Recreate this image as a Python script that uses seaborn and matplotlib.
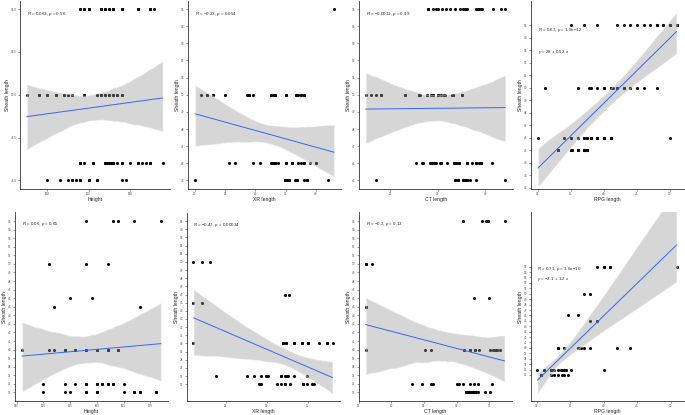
import matplotlib
matplotlib.use("Agg")
import matplotlib.pyplot as plt
import seaborn as sns

# Sheath length only takes a few values, so each x list is grouped by sheath level.
# Repeated x values are subjects that sit on top of each other in the picture.

# ---- top row : first cohort ----
sheath_levels_a = [55, 50, 46, 45]
height_a = [
    [168, 169, 170, 173, 174, 175, 176, 178, 182, 185, 186,
     168, 169, 170, 173, 174, 175, 176, 178, 182, 185],
    [155, 158, 160, 162, 164, 165, 166, 169, 172, 173, 174, 175, 176, 177, 178,
     158, 160, 162, 164, 165, 166, 169, 172, 173, 174, 175, 176, 177, 178],
    [168, 169, 171, 174, 174.5, 175, 175.5, 176, 177, 178, 180, 182, 183, 184, 185, 188,
     168, 171, 174, 175, 176, 178, 182, 185],
    [160, 163, 165, 166, 167, 168, 170, 172, 178, 179, 170, 166, 168, 172],
]
xr_a = [
    [43],
    [21, 22, 23, 25, 28.6, 29, 29.6, 32.5, 33, 33.3, 35, 36.7, 37, 37.6, 38,
     22, 23, 29, 32.5, 33, 33.3, 35, 36.7, 37.6, 38],
    [25.7, 26.6, 29.6, 30.7, 32.5, 32.7, 32.9, 33.3, 33.8, 35, 36, 37, 37.5, 38, 39, 40,
     32.7, 33.3, 35, 36, 38, 40],
    [20, 34.9, 35.2, 35.6, 36.6, 36.8, 38, 38.5, 42, 34.9, 35.6, 36.8, 38.5],
]
ct_a = [
    [28, 29, 29.5, 30, 30.9, 31.8, 32.5, 33.6, 34.6, 35.2, 35.7, 36.2, 38, 38.4, 38.7,
     39, 39.3, 41.5, 43.3, 44.2, 28],
    [14.8, 15.9, 16.9, 18, 23.1, 26, 26.3, 27.8, 28.5, 29, 30, 30.6, 31.2, 31.5, 32.9, 33.1, 35.1,
     18, 23.1, 26, 27.8, 29, 30, 31.2, 32.9, 33.1, 35.1],
    [25.4, 26.6, 26.9, 28.3, 28.8, 29.2, 29.6, 30.4, 30.7, 32, 33.4, 33.8, 34.4, 36.2, 37.1,
     38.1, 38.6, 39.1, 41.3, 38.1, 39.1, 34.4, 30.7, 33.4, 33.8, 36.2],
    [16.9, 33.6, 34.3, 35.3, 35.6, 35.9, 36.2, 36.7, 38, 44.2, 36.2, 33.6, 34.3, 35.3],
]
rpg_a = [
    [35, 37, 39, 42, 43, 44, 45, 46, 47, 48, 49, 50, 51, 48, 49, 50, 51],
    [31, 36, 37.7, 38, 39, 40, 41, 41.3, 42, 43, 44, 45, 46, 48, 40, 41, 42, 43, 44],
    [30, 34, 35, 36, 37, 37.5, 38, 39, 40, 41, 50,
     35, 36, 37, 37.5, 38, 39, 40, 40, 41, 41, 38, 39],
    [33, 35, 35.2, 36, 37, 37.5, 35, 35.2, 36, 37, 37.5, 33, 35, 36, 37, 37.5],
]

# ---- bottom row : second cohort ----
sheath_levels_b = [55, 50, 46, 45, 40, 36, 35]
height_b = [
    [158, 163, 164, 167, 172],
    [151, 158, 162],
    [155, 159],
    [152, 168],
    [146, 151, 152, 154, 156, 158, 160, 162, 164, 154, 156, 158, 160, 162, 164],
    [150, 154, 156, 158, 160, 161, 162, 163, 165, 162, 163, 160, 158, 161],
    [150, 154, 155, 158, 160, 165, 167, 168, 171, 167, 168, 171, 158, 160],
]
xr_b = [
    [],
    [21.1, 22.1, 23.1],
    [32.2, 32.7],
    [21.1, 22.1],
    [21.1, 32.0, 32.3, 33.3, 34.3, 35.0, 36.3, 37.3, 38.0, 37.3, 35.0, 32.0, 33.3, 34.3, 35.0, 32.3],
    [23.8, 27.6, 28.5, 29.3, 29.9, 30.2, 31.7, 32.2, 32.4, 32.6, 33.3, 34.9, 31.7, 32.4],
    [29.1, 29.3, 31.2, 31.7, 32.2, 32.8, 34.4, 34.9, 35.5, 35.7, 32.2, 34.4],
]
ct_b = [
    [30.9, 33.8, 34.4, 34.8, 37.3],
    [16.1, 17.0, 16.1],
    [32.6, 35.0],
    [16.1, 16.1],
    [16.1, 25.1, 26.0, 31.1, 32.0, 32.8, 33.4, 35.1, 35.5, 35.7, 36.0, 36.2, 36.6, 31.1, 32.0, 32.8],
    [23.2, 24.7, 26.0, 26.3, 30.0, 30.3, 31.0, 32.0, 32.7, 33.3, 35.4],
    [31.4, 31.6, 31.9, 32.2, 32.5, 32.7, 33.0, 33.2, 34.3, 35.1, 31.4, 31.6, 31.9, 32.2, 32.5, 32.7],
]
rpg_b = [
    [39, 40.1, 41, 50.9, 40.1, 41],
    [37, 38],
    [34.6, 36.1],
    [38, 39],
    [33.1, 34.1, 36.1, 36.6, 37, 38, 42, 44, 34.1, 36.1, 33.1],
    [30.1, 31.1, 32.1, 32.3, 32.6, 33.1, 33.6, 33.8, 34.1, 34.3, 35.1, 40.1, 31.1, 32.1, 32.3],
    [30.6, 32.1, 32.6, 33.1, 33.8, 34.1, 34.6, 30.6, 32.1],
]

# correlation labels as printed on the chart
cor_labels = [
    [r"$\it{R}$ = 0.063, $\it{p}$ = 0.56"],
    [r"$\it{R}$ = −0.23, $\it{p}$ = 0.054"],
    [r"$\it{R}$ = −0.0011, $\it{p}$ = 0.99"],
    [r"$\it{R}$ = 0.67, $\it{p}$ = 1.9e−12", r"$\it{y}$ = 28 + 0.52 $\it{x}$"],
    [r"$\it{R}$ = 0.06, $\it{p}$ = 0.65"],
    [r"$\it{R}$ = −0.47, $\it{p}$ = 0.00034"],
    [r"$\it{R}$ = −0.2, $\it{p}$ = 0.13"],
    [r"$\it{R}$ = 0.71, $\it{p}$ = 3.6e−10", r"$\it{y}$ = −2.1 + 1.2 $\it{x}$"],
]
x_titles = ["Height", "XR length", "CT length", "RPG length",
            "Height", "XR length", "CT length", "RPG length"]


def long_form(levels, groups):
    xs, ys = [], []
    for level, grp in zip(levels, groups):
        xs += grp
        ys += [level] * len(grp)
    return xs, ys


sns.set_style("ticks")
plt.rcParams["font.family"] = ["Liberation Sans", "DejaVu Sans"]
plt.rcParams["mathtext.fontset"] = "custom"
plt.rcParams["mathtext.rm"] = "Liberation Sans"
plt.rcParams["mathtext.it"] = "Liberation Sans:italic"

W, H = 685, 415
fig = plt.figure(figsize=(W / 100, H / 100), dpi=100)

# panel boxes in pixels: left, top, right, bottom
boxes = [(20, 0.5, 169.5, 189), (188, 0.5, 341, 189), (359, 0.5, 512.5, 189), (531, 0.5, 683.5, 189),
         (15, 212.5, 168, 401), (186.5, 212.5, 339.5, 401), (358.5, 212.5, 511.5, 401), (530.5, 212.5, 683.5, 401)]
xlims = [(153.35, 189.65), (18.85, 44.15), (13.4, 45.7), (28.95, 52.05),
         (144.7, 173.3), (20.25, 38.85), (15.04, 38.36), (29.06, 51.94)]
ylims = [(44.5, 55.5), (44.5, 55.5), (44.5, 55.5), (41.9, 57.0),
         (34, 56), (32.95, 56.05), (34, 56), (30.2, 65)]
xticks = [[160, 170, 180], [20, 25, 30, 35, 40], [20, 30, 40], [30, 35, 40, 45, 50],
          [145, 150, 155, 160, 165, 170], [25, 30, 35], [15, 20, 25, 30, 35], [30, 35, 40, 45, 50]]
yticks = [[45, 47.5, 50, 52.5, 55], list(range(45, 56)), list(range(45, 56)), list(range(42, 56)),
          list(range(35, 56)), list(range(35, 56)), list(range(35, 56)), list(range(35, 56))]
label_pos = [(155, 54.7), (20, 54.7), (14.8, 54.7), (30, 54.6),
             (146, 54.65), (21.1, 54.5), (16.1, 54.6), (30.1, 54.5)]
second_line_y = {3: 52.9, 7: 52.8}

panels = [long_form(sheath_levels_a, height_a), long_form(sheath_levels_a, xr_a),
          long_form(sheath_levels_a, ct_a), long_form(sheath_levels_a, rpg_a),
          long_form(sheath_levels_b, height_b), long_form(sheath_levels_b, xr_b),
          long_form(sheath_levels_b, ct_b), long_form(sheath_levels_b, rpg_b)]

for i, (x, y) in enumerate(panels):
    l, t, r, b = boxes[i]
    ax = fig.add_axes([l / W, 1 - b / H, (r - l) / W, (b - t) / H])
    sns.regplot(x=x, y=y, ax=ax, color="black", n_boot=1000, seed=3,
                scatter_kws=dict(s=5, linewidths=0, alpha=1),
                line_kws=dict(color="#3366FF", lw=0.7))
    band = ax.collections[-1]
    band.set_facecolor("#999999")
    band.set_alpha(0.4)

    ax.set_xlim(*xlims[i])
    ax.set_ylim(*ylims[i])
    ax.set_xticks(xticks[i])
    ax.set_yticks(yticks[i])
    if i == 0:
        ax.set_yticklabels([f"{v:.1f}" for v in yticks[i]])
    ax.tick_params(labelsize=2.2, length=1.5, width=0.4, pad=1,
                   colors="#4D4D4D", labelcolor="#4D4D4D")
    for s in ["left", "bottom"]:
        ax.spines[s].set_linewidth(0.6)
        ax.spines[s].set_color("#333333")
    sns.despine(ax=ax)
    ax.set_xlabel(x_titles[i], fontsize=3.7, labelpad=0.6)
    ax.set_ylabel("Sheath length", fontsize=3.7, labelpad=0.6)

    lx, ly = label_pos[i]
    ax.text(lx, ly, cor_labels[i][0], fontsize=3.2, va="center", ha="left")
    if len(cor_labels[i]) > 1:
        ax.text(lx, second_line_y[i], cor_labels[i][1], fontsize=3.2, va="center", ha="left")

fig.savefig("out.png", dpi=100)
